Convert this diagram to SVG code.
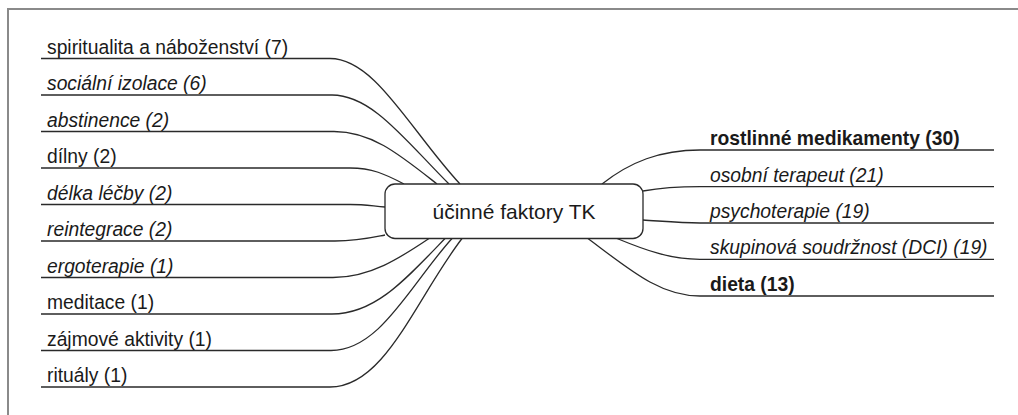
<svg xmlns="http://www.w3.org/2000/svg" width="1018" height="415" viewBox="0 0 1018 415">
<style>
  text { font-family: "Liberation Sans", Arial, Helvetica, sans-serif; font-size: 19.3px; fill: #1a1a1a; }
  .it { font-style: italic; }
  .b { font-weight: bold; }
  .c { fill: none; stroke: #2a2a2a; stroke-width: 1.3; }
  .center { font-size: 21px; }
</style>
<rect x="0" y="0" width="1018" height="415" fill="#ffffff"/>
<path d="M8,420 V9 H1024" fill="none" stroke="#8a8a8a" stroke-width="2"/>
<g id="connectors">
  <path class="c" d="M41,58.5 H330 C375,58.5 410,130 460,184"/>
  <path class="c" d="M41,95 H332 C372,95 405,140 449,184"/>
  <path class="c" d="M41,131.5 H334 C372,131.5 400,155 437,184"/>
  <path class="c" d="M41,168 H350 C372,168 385,174 404,184"/>
  <path class="c" d="M41,204.5 H350 C365,204.5 372,206 385,207"/>
  <path class="c" d="M41,241 H335 C358,241 370,238 385,235"/>
  <path class="c" d="M41,277.5 H333 C370,277.5 400,258 429,238.5"/>
  <path class="c" d="M41,314 H332 C375,314 405,280 445,238.5"/>
  <path class="c" d="M41,350.5 H331 C380,350.5 410,285 452,238.5"/>
  <path class="c" d="M41,387 H330 C385,387 415,300 462,238.5"/>
  <path class="c" d="M602,184 C630,162 660,150 700,150 H994"/>
  <path class="c" d="M643,191 C660,188 680,186.7 700,186.7 H994"/>
  <path class="c" d="M643,220 C660,221 680,223 700,223 H994"/>
  <path class="c" d="M617,238.5 C645,250 670,259.3 700,259.3 H994"/>
  <path class="c" d="M588,238.5 C630,270 660,296 700,296 H994"/>
</g>
<g id="center">
  <rect x="385" y="184" width="258" height="54.5" rx="10" ry="10" fill="#ffffff" stroke="#2a2a2a" stroke-width="1.3"/>
  <text class="center" x="514" y="219" text-anchor="middle">účinné faktory TK</text>
</g>
<g id="n-spiritualita"><text x="47" y="53.5">spiritualita a náboženství (7)</text></g>
<g id="n-izolace"><text class="it" x="47" y="90">sociální izolace (6)</text></g>
<g id="n-abstinence"><text class="it" x="47" y="126.5">abstinence (2)</text></g>
<g id="n-dilny"><text x="47" y="163">dílny (2)</text></g>
<g id="n-delka"><text class="it" x="47" y="199.5">délka léčby (2)</text></g>
<g id="n-reintegrace"><text class="it" x="47" y="236">reintegrace (2)</text></g>
<g id="n-ergoterapie"><text class="it" x="47" y="272.5">ergoterapie (1)</text></g>
<g id="n-meditace"><text x="47" y="309">meditace (1)</text></g>
<g id="n-zajmove"><text x="47" y="345.5">zájmové aktivity (1)</text></g>
<g id="n-ritualy"><text x="47" y="382">rituály (1)</text></g>
<g id="n-rostlinne"><text class="b" x="710" y="145">rostlinné medikamenty (30)</text></g>
<g id="n-osobni"><text class="it" x="710" y="181.7">osobní terapeut (21)</text></g>
<g id="n-psychoterapie"><text class="it" x="710" y="218">psychoterapie (19)</text></g>
<g id="n-skupinova"><text class="it" x="710" y="254.3">skupinová soudržnost (DCI) (19)</text></g>
<g id="n-dieta"><text class="b" x="710" y="291">dieta (13)</text></g>
</svg>
